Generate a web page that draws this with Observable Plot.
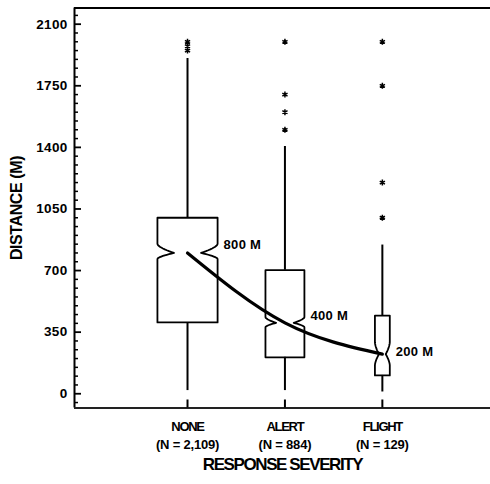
<!DOCTYPE html>
<html><head><meta charset="utf-8">
<script src="https://cdn.jsdelivr.net/npm/d3@7"></script>
<script src="https://cdn.jsdelivr.net/npm/@observablehq/plot@0.6"></script>
<style>body{margin:0;background:#fff}</style>
</head><body><div id="chart"></div>
<script>
// ---- data ----
const categories = ["NONE", "ALERT", "FLIGHT"];
const counts = [2109, 884, 129];
const medians = [800, 403, 225];
const q1 = [405, 207, 104];
const q3 = [1000, 702, 444];
const notchLow = [766, 378, 161];
const notchHigh = [851, 435, 293];
const whiskerLow = [18, 18, 10];
const whiskerHigh = [1905, 1405, 845];
const outliersNone = [2000, 1975, 1950];
const outliersAlert = [2000, 1700, 1600, 1500];
const outliersFlight = [2000, 1750, 1200, 1000];
const medianLabels = ["800 M", "400 M", "200 M"];
const yTicks = [0, 350, 700, 1050, 1400, 1750, 2100];
const yMinorTicks = d3.range(-50, 2151, 50).filter(v => v % 350 !== 0);
const xTitle = "RESPONSE SEVERITY";
const yTitle = "DISTANCE (M)";

// ---- layout ----
const W = 490, H = 484;
const mLeft = 74, mRight = 0, mTop = 7.5, mBottom = 76.5;
const xDomain = [-0.16, 4.11];
const yDomain = [-81, 2192];
const pxPerUnit = (W - mLeft - mRight) / (xDomain[1] - xDomain[0]);
const halfWidthPx = counts.map(n => 0.655 * Math.sqrt(n));
const fmt = d3.format(",");
const idx = categories.map((_, i) => i);

// notched box outlines
const outlineRows = [];
idx.forEach(i => {
  const cx = i + 1, hw = halfWidthPx[i] / pxPerUnit, wn = 0.45 * hw;
  const steps = 10, p = 1.6;
  const left = [[hw, q3[i]], [hw, notchHigh[i]]];
  for (let k = 1; k <= steps; k++) {
    const t = k / steps;
    left.push([hw - (hw - wn) * Math.pow(t, p), notchHigh[i] + (medians[i] - notchHigh[i]) * t]);
  }
  for (let k = 1; k <= steps; k++) {
    const t = k / steps;
    left.push([hw - (hw - wn) * Math.pow(1 - t, p), medians[i] + (notchLow[i] - medians[i]) * t]);
  }
  left.push([hw, q1[i]]);
  const pts = [...left.map(([o, y]) => [cx - o, y]), ...left.slice().reverse().map(([o, y]) => [cx + o, y])];
  pts.push(pts[0]);
  pts.forEach(([x, y]) => outlineRows.push({box: categories[i], x, y}));
});

const outlierRows = [
  ...outliersNone.map(v => ({i: 0, v})),
  ...outliersAlert.map(v => ({i: 1, v})),
  ...outliersFlight.map(v => ({i: 2, v}))
];

const labelDy = [-8, -7, -2];

const svg = Plot.plot({
  width: W, height: H,
  marginLeft: mLeft, marginRight: mRight, marginTop: mTop, marginBottom: mBottom,
  style: {fontFamily: "'Liberation Sans', Arial, sans-serif", fontWeight: "bold", background: "white", color: "black"},
  x: {domain: xDomain},
  y: {domain: yDomain, label: null},
  marks: [
    // frame lines (left, top, bottom)
    Plot.ruleX([xDomain[0]], {stroke: "black", strokeWidth: 2}),
    Plot.ruleY([yDomain[1]], {stroke: "black", strokeWidth: 2}),
    Plot.ruleY([yDomain[0]], {stroke: "#222", strokeWidth: 2}),
    // y axis
    Plot.axisY(yTicks, {tickSize: -7, tickPadding: 14, fontSize: 13.5, strokeWidth: 1.8, label: null, tickFormat: d3.format("d")}),
    Plot.axisY(yMinorTicks, {tickSize: -4, tickFormat: () => "", strokeWidth: 1.5, label: null}),
    // x axis
    Plot.axisX([1, 2, 3], {tickSize: -8, tickFormat: () => "", strokeWidth: 2, label: null}),
    Plot.axisX([1, 2, 3], {tickSize: 0, tickPadding: 10, fontSize: 13, lineHeight: 1.4, label: null,
      tickFormat: v => `${categories[v - 1]}\n(N = ${fmt(counts[v - 1])})`}),
    // titles
    Plot.text([xTitle], {frameAnchor: "bottom", dy: 62, fontSize: 17, textAnchor: "middle", text: d => d}),
    Plot.text([yTitle], {frameAnchor: "left", dx: -58, rotate: -90, fontSize: 16, textAnchor: "middle", lineAnchor: "middle", text: d => d}),
    // whiskers
    Plot.ruleX(idx, {x: i => i + 1, y1: i => q3[i], y2: i => whiskerHigh[i], strokeWidth: 2}),
    Plot.ruleX(idx, {x: i => i + 1, y1: i => q1[i], y2: i => whiskerLow[i], strokeWidth: 2}),
    // boxes
    Plot.line(outlineRows, {x: "x", y: "y", z: "box", stroke: "black", strokeWidth: 1.8, curve: "linear"}),
    // outliers
    Plot.dot(outlierRows, {x: d => d.i + 1, y: "v", symbol: "asterisk", r: 2.8, stroke: "black", strokeWidth: 1.5}),
    // median trend curve
    Plot.line(idx, {x: i => i + 1, y: i => medians[i], curve: "natural", stroke: "black", strokeWidth: 3.2}),
    // median labels
    ...idx.map(i => Plot.text([i], {x: j => j + 1, y: j => medians[j], text: j => medianLabels[j],
      dx: halfWidthPx[i] + 6, dy: labelDy[i], textAnchor: "start", fontSize: 13}))
  ]
});

d3.select(svg).selectAll("text").each(function () {
  const t = this.textContent;
  let ls = null;
  if (t.includes("RESPONSE")) ls = "-1.4px";
  else if (t.includes("DISTANCE")) ls = "-0.4px";
  else if (/ M$/.test(t)) ls = "0.3px";
  else if (/^\d+$/.test(t)) ls = "0.3px";
  if (ls) this.setAttribute("letter-spacing", ls);
});
d3.select(svg).selectAll("tspan").each(function () {
  const t = this.textContent;
  if (/^(NONE|ALERT|FLIGHT)$/.test(t)) this.setAttribute("letter-spacing", "-1.3px");
  else if (/^\(N/.test(t)) this.setAttribute("letter-spacing", "-0.2px");
});

document.getElementById("chart").appendChild(svg);
</script>
</body></html>
